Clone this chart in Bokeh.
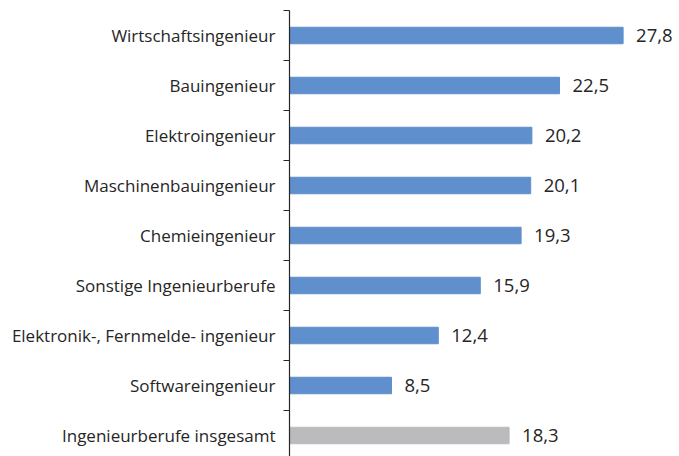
from bokeh.plotting import figure
from bokeh.models import ColumnDataSource, Range1d, FixedTicker, LabelSet
from bokeh.core.properties import value
from bokeh.embed import file_html
from bokeh.resources import INLINE

categories = [
    "Wirtschaftsingenieur",
    "Bauingenieur",
    "Elektroingenieur",
    "Maschinenbauingenieur",
    "Chemieingenieur",
    "Sonstige Ingenieurberufe",
    "Elektronik-, Fernmelde- ingenieur",
    "Softwareingenieur",
    "Ingenieurberufe insgesamt",
]
values = [27.8, 22.5, 20.2, 20.1, 19.3, 15.9, 12.4, 8.5, 18.3]
colors = ["#5f8fcd"] * 8 + ["#bbbbbe"]

n = len(categories)
ypos = [n - 1 - i for i in range(n)]
labels = [f"{v:.1f}".replace(".", ",") for v in values]

src = ColumnDataSource(dict(y=ypos, v=values, c=colors, lab=labels))

p = figure(width=679, height=456, output_backend="svg", toolbar_location=None,
           x_range=Range1d(0, 32.5), y_range=Range1d(-0.42, n - 0.5),
           min_border_left=289, min_border_right=0, min_border_top=10, min_border_bottom=0)
p.outline_line_color = None
p.grid.visible = False
p.xaxis.visible = False

p.hbar(y="y", right="v", left=0, height=0.33, color="c", source=src)

p.add_layout(LabelSet(x="v", y="y", text="lab", source=src, x_offset=13,
                      text_baseline="middle", text_align="left",
                      text_font=value("Open Sans"), text_font_size="18.5px", text_color="#262626"))

ax = p.yaxis[0]
ax.ticker = FixedTicker(ticks=ypos, minor_ticks=[k + 0.5 for k in range(-1, n)])
ax.major_label_overrides = {y: c for y, c in zip(ypos, categories)}
ax.major_tick_out = 0
ax.major_tick_in = 0
ax.minor_tick_out = 6
ax.minor_tick_in = 0
ax.minor_tick_line_color = "#262626"
ax.axis_line_color = "#262626"
ax.axis_line_width = 1.2
ax.major_label_standoff = 8
ax.major_label_text_font = "Open Sans"
ax.major_label_text_font_size = "17px"
ax.major_label_text_color = "#262626"

open("out.html", "w").write(file_html(p, INLINE))
